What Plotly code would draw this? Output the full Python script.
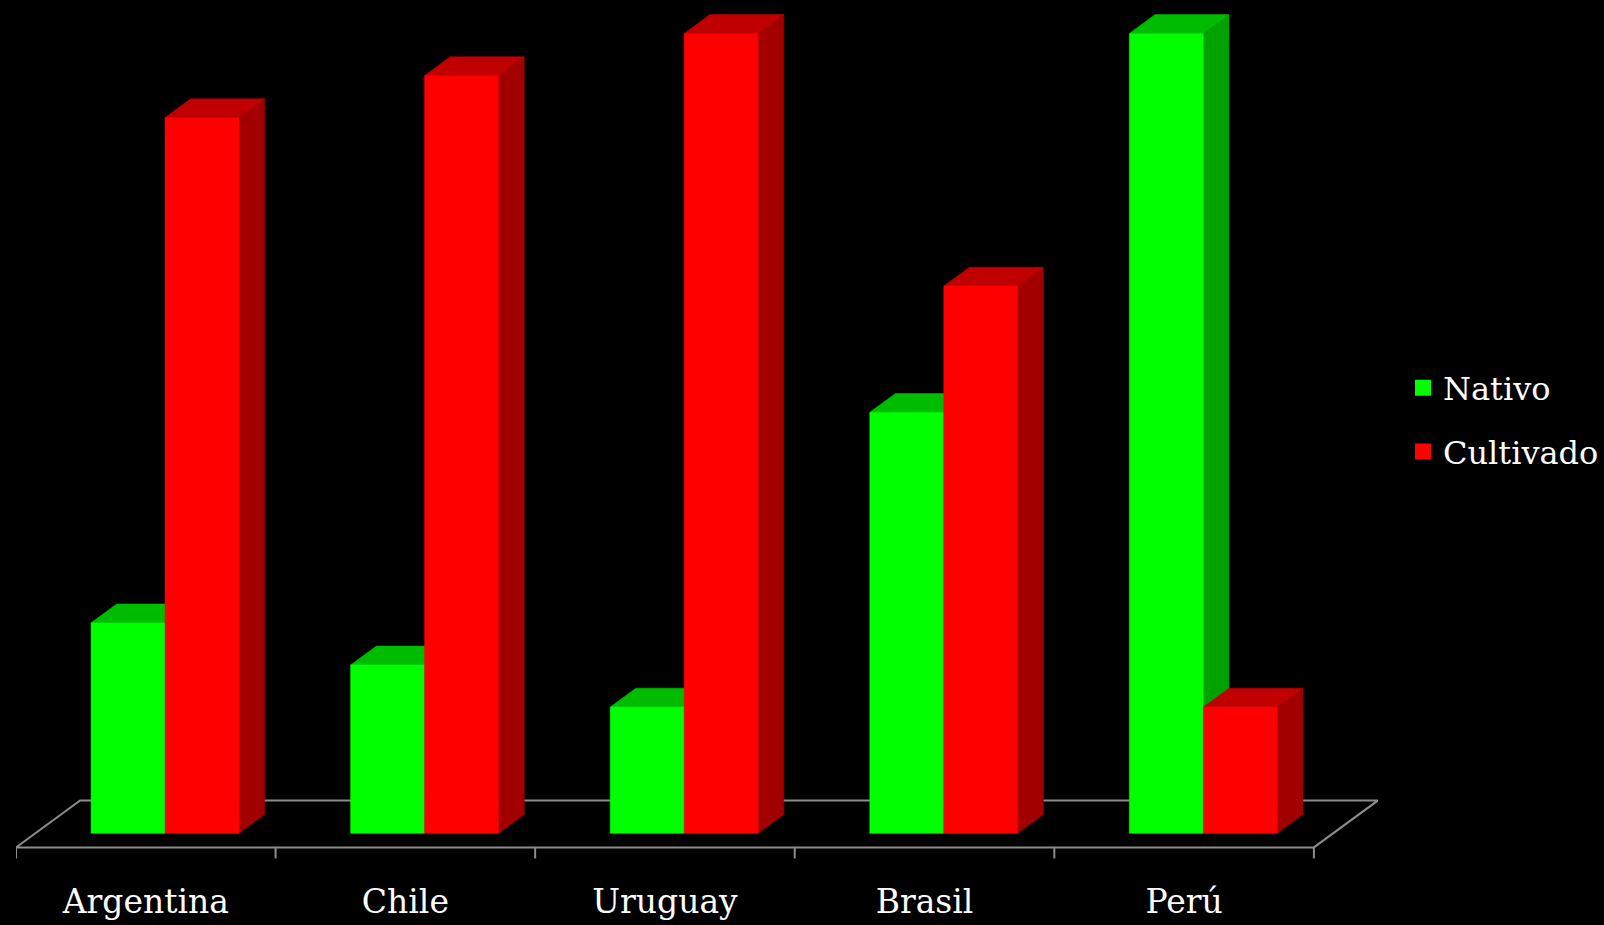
import plotly.graph_objects as go

# ---- data ----
categories = ["Argentina", "Chile", "Uruguay", "Brasil", "Perú"]
nativo = [5, 4, 3, 10, 19]
cultivado = [17, 18, 19, 13, 3]
series_names = ["Nativo", "Cultivado"]

# ---- styling / geometry (3D look) ----
front_colors = ["#00FF00", "#FF0000"]
top_colors = ["#00BC00", "#C00000"]
side_colors = ["#00A200", "#A20000"]
floor_color = "#8C8C8C"
DX = 0.247       # x shift (category units) for the full floor depth
DY = 1.116       # y shift (value units) for the full floor depth
D_FRONT, D_BACK = 0.3, 0.7
BAR_W = 0.285    # width of one bar in category units
FONT = "DejaVu Serif"


def proj(x, v, d):
    return x + d * DX, v + (d - D_FRONT) * DY


def poly(points):
    xs, ys = [], []
    for (x, v, d) in points:
        px, py = proj(x, v, d)
        xs.append(px)
        ys.append(py)
    xs.append(xs[0])
    ys.append(ys[0])
    return xs, ys


fig = go.Figure()

n = len(categories)
# floor
fx, fy = poly([(-0.5, 0, 0), (n - 0.5, 0, 0), (n - 0.5, 0, 1), (-0.5, 0, 1)])
fig.add_trace(go.Scatter(x=fx, y=fy, mode="lines", line=dict(color=floor_color, width=2),
                         hoverinfo="skip", showlegend=False))
# tick marks on floor front edge
tick_len = 11 / 42.1
tx, ty = [], []
for k in range(n + 1):
    px, py = proj(k - 0.5, 0, 0)
    tx += [px, px, None]
    ty += [py, py - tick_len, None]
fig.add_trace(go.Scatter(x=tx, y=ty, mode="lines", line=dict(color=floor_color, width=2),
                         hoverinfo="skip", showlegend=False))

values = [nativo, cultivado]
for i in range(n):
    for s in range(2):
        v = values[s][i]
        x0 = i - BAR_W + s * BAR_W
        x1 = x0 + BAR_W
        faces = [
            (poly([(x1, 0, D_FRONT), (x1, v, D_FRONT), (x1, v, D_BACK), (x1, 0, D_BACK)]), side_colors[s]),
            (poly([(x0, v, D_FRONT), (x1, v, D_FRONT), (x1, v, D_BACK), (x0, v, D_BACK)]), top_colors[s]),
            (poly([(x0, 0, D_FRONT), (x1, 0, D_FRONT), (x1, v, D_FRONT), (x0, v, D_FRONT)]), front_colors[s]),
        ]
        for (xs, ys), col in faces:
            fig.add_trace(go.Scatter(x=xs, y=ys, mode="lines", fill="toself", fillcolor=col,
                                     line=dict(color=col, width=0.5), hoverinfo="skip",
                                     showlegend=False))

# legend entries
for s in range(2):
    fig.add_trace(go.Scatter(x=[None], y=[None], mode="markers", name=series_names[s],
                             legendgroup=series_names[s],
                             marker=dict(symbol="square", size=20, color=front_colors[s])))

W, H = 1604, 925
ml, mt, mb = 16, 0, 65
unit_px = 259.5
mr = W - ml - int(round((n + DX) * unit_px))
px_per_unit = 42.1
base_pix = 833.3
y_top = base_pix / px_per_unit
y_bot = -((H - mb) - base_pix) / px_per_unit

fig.update_layout(
    width=W, height=H,
    margin=dict(l=ml, r=mr, t=mt, b=mb, autoexpand=False),
    paper_bgcolor="black", plot_bgcolor="black",
    font=dict(family=FONT, color="white"),
    showlegend=True,
    legend=dict(x=(1403 - ml) / (W - ml - mr), xanchor="left", y=1 - 420 / (H - mb), yanchor="middle",
                font=dict(size=32, color="white", family=FONT), bgcolor="rgba(0,0,0,0)",
                tracegroupgap=19),
    xaxis=dict(range=[-0.5, n - 0.5 + DX], showgrid=False, zeroline=False, showline=False,
               tickvals=list(range(n)), ticktext=categories, ticks="",
               tickfont=dict(size=33, color="white", family=FONT), ticklabelstandoff=19),
    yaxis=dict(range=[y_bot, y_top], showgrid=False, zeroline=False, showline=False,
               showticklabels=False, ticks=""),
)

fig.write_html(
    "out.html",
    config={"displayModeBar": False},
    post_script="document.body.style.margin='0';document.body.style.background='black';"
                "document.documentElement.style.overflow='hidden';",
)
